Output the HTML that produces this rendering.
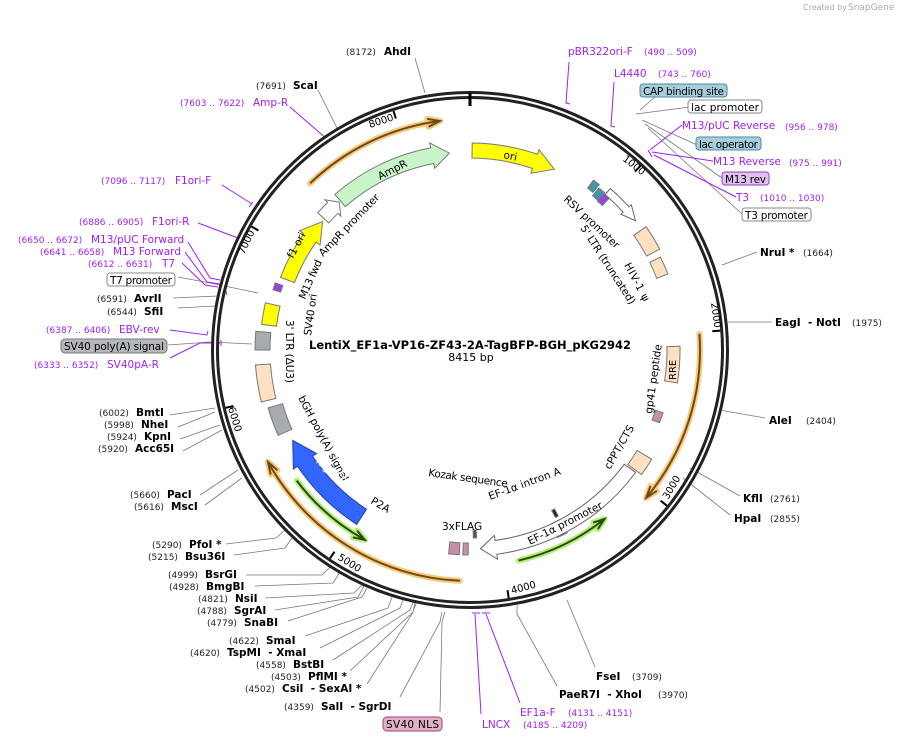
<!DOCTYPE html>
<html><head><meta charset="utf-8"><style>
html,body{margin:0;padding:0;background:#fff;}
svg{display:block;font-family:"DejaVu Sans","Liberation Sans",sans-serif;}
.p{fill:#a020f0;font-size:10.5px;}
.pn{fill:#a020f0;font-size:9px;}
.n{fill:#222;font-size:9px;}
.e{fill:#000;font-size:10.5px;font-weight:bold;}
.f{fill:#000;font-size:10.5px;}
.l{stroke:#777;stroke-width:0.8;fill:none;}
.pl{stroke:#a020f0;stroke-width:1;fill:none;}
</style></head><body>
<svg id="s" width="900" height="741" viewBox="0 0 900 741" xmlns="http://www.w3.org/2000/svg">
<text x="803" y="10" font-size="8" fill="#aaa">Created by</text><text x="848" y="10" font-size="9" fill="#aaa">SnapGene</text>
<g class="l">
<path d="M415,58 L425,93"/><path d="M318,90 L338,130"/>
<path d="M722,265 L757,252"/><path d="M728,322 L772,322"/><path d="M719,410 L765,418"/>
<path d="M690,468 L740,496"/><path d="M683,478 L730,515"/>
<path d="M567,600 L595,667"/><path d="M517,605 L517,614 L557,686"/>
<path d="M640,110 L655,97 M636,114 L690,107 M642,120 L697,145 M645,124 L722,178 M648,128 L742,214"/>
<path d="M170,415 L215,408 M178,427 L215,412 M180,439 L220,425 M183,451 L222,430"/>
<path d="M200,495 L238,470 M205,505 L242,478"/>
<path d="M226,544 L276,538 L285,530 M234,555 L285,548 L292,538"/>
<path d="M246,575 L322,575 L330,567 M255,586 L333,583 L340,572 M265,598 L354,593 L362,585 M275,610 L358,597 L364,586 M288,621 L362,597 L367,588"/>
<path d="M305,636 L388,608 L392,597 M320,648 L400,608 L404,598 M333,660 L410,610 L414,600 M350,671 L413,612 L415,603 M367,684 L412,614 L416,604"/>
<path d="M400,697 L440,622 L442,612 M440,712 L442,622 L445,612"/>
<path d="M178,277 L210,283 L258,293 M173,298 L218,296 M178,308 L215,306"/>
<path d="M168,345 L210,342 L252,344"/>
</g>
<g class="pl">
<path d="M290,107 L328,140 M325,143 L330,138"/>
<path d="M222,185 L252,204 M249,207 L253,202"/>
<path d="M198,223 L238,238"/>
<path d="M188,242 L210,278 L220,280 M185,252 L207,282 L220,284 M182,263 L205,285 L218,287"/>
<path d="M225,288 L227,295"/>
<path d="M170,330 L207,335 L208,331"/>
<path d="M170,358 L200,343 L220,343 M221,340 L221,346"/>
<path d="M569,62 L566,103 L570,104"/><path d="M614,82 L611,126 L615,127"/>
<path d="M682,125 L650,150 M713,161 L652,152 M736,197 L654,155 M648,150 L652,157"/>
<path d="M481,714 L475,614 M520,703 L486,614 M472,613 L480,613 M482,613 L490,613"/>
</g>
<text class="p" x="568" y="55">pBR322ori-F</text><text class="pn" x="644" y="55">(490 .. 509)</text>
<text class="p" x="614" y="77">L4440</text><text class="pn" x="658" y="77">(743 .. 760)</text>
<rect x="640" y="84" width="87" height="13" rx="3" fill="#a8cdd8" stroke="#4a8b9b"/><text class="f" x="643" y="95" textLength="81">CAP binding site</text>
<rect x="688" y="100" width="74" height="13" rx="3" fill="#fff" stroke="#888"/><text class="f" x="691" y="111" textLength="68">lac promoter</text>
<text class="p" x="682" y="129">M13/pUC Reverse</text><text class="pn" x="785" y="130">(956 .. 978)</text>
<rect x="696" y="137" width="65" height="13" rx="3" fill="#a8cdd8" stroke="#4a8b9b"/><text class="f" x="699" y="148" textLength="59">lac operator</text>
<text class="p" x="713" y="165">M13 Reverse</text><text class="pn" x="789" y="166">(975 .. 991)</text>
<rect x="722" y="172" width="47" height="13" rx="3" fill="#e0c0f0" stroke="#9040c0"/><text class="f" x="725" y="183" textLength="41">M13 rev</text>
<text class="p" x="736" y="201">T3</text><text class="pn" x="760" y="201">(1010 .. 1030)</text>
<rect x="742" y="208" width="69" height="13" rx="3" fill="#fff" stroke="#888"/><text class="f" x="745" y="219" textLength="63">T3 promoter</text>
<text class="n" x="346" y="55">(8172)</text><text class="e" x="384" y="55">AhdI</text>
<text class="n" x="256" y="89">(7691)</text><text class="e" x="293" y="89">ScaI</text>
<text class="pn" x="180" y="106">(7603 .. 7622)</text><text class="p" x="253" y="106">Amp-R</text>
<text class="pn" x="101" y="184">(7096 .. 7117)</text><text class="p" x="175" y="184">F1ori-F</text>
<text class="pn" x="79" y="225">(6886 .. 6905)</text><text class="p" x="152" y="225">F1ori-R</text>
<text class="pn" x="18" y="243">(6650 .. 6672)</text><text class="p" x="91" y="243">M13/pUC Forward</text>
<text class="pn" x="40" y="255">(6641 .. 6658)</text><text class="p" x="113" y="255">M13 Forward</text>
<text class="pn" x="88" y="267">(6612 .. 6631)</text><text class="p" x="162" y="267">T7</text>
<rect x="107" y="273" width="68" height="13" rx="3" fill="#fff" stroke="#888"/><text class="f" x="110" y="284" textLength="62">T7 promoter</text>
<text class="n" x="97" y="302">(6591)</text><text class="e" x="134" y="302">AvrII</text>
<text class="n" x="107" y="315">(6544)</text><text class="e" x="144" y="315">SfiI</text>
<text class="pn" x="46" y="333">(6387 .. 6406)</text><text class="p" x="119" y="333">EBV-rev</text>
<rect x="61" y="339" width="106" height="14" rx="4" fill="#b4b8bc" stroke="#777"/><text class="f" x="64" y="350" textLength="100">SV40 poly(A) signal</text>
<text class="pn" x="34" y="368">(6333 .. 6352)</text><text class="p" x="107" y="368">SV40pA-R</text>
<text class="n" x="99" y="416">(6002)</text><text class="e" x="136" y="416">BmtI</text>
<text class="n" x="104" y="428">(5998)</text><text class="e" x="141" y="428">NheI</text>
<text class="n" x="107" y="440">(5924)</text><text class="e" x="144" y="440">KpnI</text>
<text class="n" x="98" y="452">(5920)</text><text class="e" x="135" y="452">Acc65I</text>
<text class="n" x="130" y="498">(5660)</text><text class="e" x="167" y="498">PacI</text>
<text class="n" x="134" y="510">(5616)</text><text class="e" x="171" y="510">MscI</text>
<text class="n" x="152" y="548">(5290)</text><text class="e" x="189" y="548">PfoI *</text>
<text class="n" x="148" y="560">(5215)</text><text class="e" x="185" y="560">Bsu36I</text>
<text class="n" x="168" y="578">(4999)</text><text class="e" x="205" y="578">BsrGI</text>
<text class="n" x="169" y="590">(4928)</text><text class="e" x="206" y="590">BmgBI</text>
<text class="n" x="198" y="602">(4821)</text><text class="e" x="235" y="602">NsiI</text>
<text class="n" x="197" y="614">(4788)</text><text class="e" x="234" y="614">SgrAI</text>
<text class="n" x="207" y="626">(4779)</text><text class="e" x="244" y="626">SnaBI</text>
<text class="n" x="229" y="644">(4622)</text><text class="e" x="266" y="644">SmaI</text>
<text class="n" x="190" y="656">(4620)</text><text class="e" x="227" y="656">TspMI&#160;&#160;- XmaI</text>
<text class="n" x="256" y="668">(4558)</text><text class="e" x="293" y="668">BstBI</text>
<text class="n" x="271" y="680">(4503)</text><text class="e" x="308" y="680">PflMI *</text>
<text class="n" x="245" y="692">(4502)</text><text class="e" x="282" y="692">CsiI&#160;&#160;- SexAI *</text>
<text class="n" x="284" y="710">(4359)</text><text class="e" x="321" y="710">SalI&#160;&#160;- SgrDI</text>
<rect x="383" y="717" width="59" height="14" rx="4" fill="#e0b0c8" stroke="#a04070"/><text class="f" x="386" y="728" textLength="53">SV40 NLS</text>
<text class="p" x="482" y="728">LNCX</text>
<text class="p" x="520" y="716">EF1a-F</text><text class="pn" x="568" y="716">(4131 .. 4151)</text>
<text class="pn" x="523" y="728">(4185 .. 4209)</text>
<text class="e" x="760" y="256">NruI *</text><text class="n" x="803" y="256">(1664)</text>
<text class="e" x="775" y="326">EagI&#160;&#160;- NotI</text><text class="n" x="852" y="326">(1975)</text>
<text class="e" x="769" y="424">AleI</text><text class="n" x="806" y="424">(2404)</text>
<text class="e" x="743" y="502">KflI</text><text class="n" x="770" y="502">(2761)</text>
<text class="e" x="734" y="522">HpaI</text><text class="n" x="770" y="522">(2855)</text>
<text class="e" x="596" y="680">FseI</text><text class="n" x="632" y="680">(3709)</text>
<text class="e" x="559" y="698">PaeR7I&#160;&#160;- XhoI</text><text class="n" x="658" y="698">(3970)</text>
<circle cx="470" cy="350" r="255" fill="none" stroke="#222" stroke-width="8"/>
<circle cx="470" cy="350" r="255" fill="none" stroke="#fff" stroke-width="2"/>
<path d="M470,93 L470,106" stroke="#000" stroke-width="3"/>
<g id="feat"></g>
<text x="470" y="349" text-anchor="middle" font-size="11.5" font-weight="bold">LentiX_EF1a-VP16-ZF43-2A-TagBFP-BGH_pKG2942</text>
<text x="471" y="361" text-anchor="middle" font-size="11">8415 bp</text>
<g font-size="10.5" fill="#000">
<text transform="translate(503,158) rotate(12)">ori</text>
<text transform="translate(380,180) rotate(-27)">AmpR</text>
<text transform="translate(323,257) rotate(-46)" textLength="82">AmpR promoter</text>
<text transform="translate(293,259) rotate(-62)">f1 ori</text>
<text transform="translate(305,300) rotate(-66)" textLength="42">M13 fwd</text>
<text transform="translate(311,336) rotate(-82)" textLength="42">SV40 ori</text>
<text transform="translate(286,320) rotate(90)" textLength="63">3' LTR (ΔU3)</text>
<text transform="translate(298,398) rotate(62)" textLength="95">bGH poly(A) signal</text>
<text transform="translate(314,461) rotate(40)" fill="#fff">TagBFP</text>
<text transform="translate(370,503) rotate(30)">P2A</text>
<text transform="translate(442,530)">3xFLAG</text>
<text transform="translate(428,476) rotate(8)" textLength="80">Kozak sequence</text>
<text transform="translate(490,500) rotate(-20)" textLength="76">EF-1α intron A</text>
<text transform="translate(530,545) rotate(-27)">EF-1α promoter</text>
<text transform="translate(610,470) rotate(-60)">cPPT/CTS</text>
<text transform="translate(652,414) rotate(-82)">gp41 peptide</text>
<text transform="translate(676,380) rotate(-90)" font-size="10">RRE</text>
<text transform="translate(563,200) rotate(43)" textLength="72">RSV promoter</text>
<text transform="translate(580,228) rotate(57)" textLength="92">5' LTR (truncated)</text>
<text transform="translate(624,265) rotate(62)" textLength="42">HIV-1 ψ</text>
</g>
<g font-size="10" fill="#000">
<text transform="translate(370,128) rotate(-18)">8000</text>
<text transform="translate(622,160) rotate(38)">1000</text>
<text transform="translate(711,303) rotate(82)">2000</text>
<text transform="translate(668,500) rotate(-60)">3000</text>
<text transform="translate(512,594) rotate(-15)">4000</text>
<text transform="translate(337,559) rotate(32)">5000</text>
<text transform="translate(228,408) rotate(73)">6000</text>
<text transform="translate(244,255) rotate(-65)">7000</text>
</g>
</svg>
<script>
var cx=470,cy=350,NS="http://www.w3.org/2000/svg",g=document.getElementById("feat");
function P(r,a){a=a*Math.PI/180;return [(cx+r*Math.sin(a)).toFixed(1),(cy-r*Math.cos(a)).toFixed(1)];}
function arc(r,a1,a2){var p=P(r,a2),sw=a2>a1?1:0,la=Math.abs(a2-a1)>180?1:0;return " A"+r+","+r+" 0 "+la+" "+sw+" "+p.join(",");}
function el(t,at){var e=document.createElementNS(NS,t);for(var k in at)e.setAttribute(k,at[k]);g.appendChild(e);return e;}
function box(r1,r2,a1,a2,fill,st){var d="M"+P(r2,a1).join(",")+arc(r2,a1,a2)+" L"+P(r1,a2).join(",")+arc(r1,a2,a1)+"Z";el("path",{d:d,fill:fill,stroke:st||"#777","stroke-width":1});}
function arrow(r1,r2,a1,a2,tip,fill,st,w){var d;var rm=(r1+r2)/2,w=w||5;
 d="M"+P(r2,a1).join(",")+arc(r2,a1,a2)+" L"+P(r2+w,a2).join(",")+" L"+P(rm,tip).join(",")+" L"+P(r1-w,a2).join(",")+" L"+P(r1,a2).join(",")+arc(r1,a2,a1)+"Z";
 el("path",{d:d,fill:fill,stroke:st||"#555","stroke-width":1});}
function line(r,a1,a2,col,glow){var d="M"+P(r,a1).join(",")+arc(r,a1,a2);
 var s=a2>a1?-3:3,h1=P(r+4,a2+s),h2=P(r-4,a2+s),t=P(r,a2);
 var hd="M"+h1.join(",")+" L"+t.join(",")+" L"+h2.join(",");
 el("path",{d:d,fill:"none",stroke:glow,"stroke-width":6,"stroke-linecap":"round"});
 el("path",{d:hd,fill:"none",stroke:glow,"stroke-width":6,"stroke-linecap":"round","stroke-linejoin":"round"});
 el("path",{d:d,fill:"none",stroke:col,"stroke-width":2});
 el("path",{d:hd,fill:"none",stroke:col,"stroke-width":2});}
[[8000,-18],[1000,42.8],[2000,85.6],[3000,128.4],[4000,171.1],[5000,213.9],[6000,256.7],[7000,299.5]].forEach(function(t){var a=t[0]*360/8415;el("path",{d:"M"+P(251,a).join(",")+" L"+P(243,a).join(","),stroke:"#000","stroke-width":2});});
line(231,-43.8,-7.5,"#6b4a1a","#fbc97a");
line(230,86,130,"#6b4a1a","#fbc97a");
line(231,182.5,241,"#6b4a1a","#fbc97a");
line(216,167,141.5,"#2b4a10","#b4f07a");
line(217,233,209,"#2b4a10","#b4f07a");
arrow(192,207,0.6,19,25,"#ffff00","#777",5);
arrow(190,206,-41,-11,-6,"#c8f5c8","#777",5);
arrow(190,205,-48,-44,-41.5,"#fff","#777",4);
arrow(188,203,-69,-55,-49,"#ffff00","#777",5);
arrow(190,208,213,236,243,"#3366ff","#2244aa",5);
box(192,207,152,155,"#c890a8");
box(193,205,180.5,182,"#c890a8");box(193,205,183,186,"#c890a8");
box(195,210,246,254,"#a8acb0");
box(200,215,256,266,"#ffe0c0");
box(200,215,270,275,"#a8acb0");
box(195,210,277,283,"#ffff00");
box(198,206,-73,-71,"#a040e0");
arrow(192,206,126.5,172.5,177,"#fff","#666",5);
box(195,212,121,126,"#ffe0c0");
box(195,203,108,111,"#c890a8");
box(197,210,89,99,"#ffe0c0");
box(200,215,55,62,"#ffe0c0");box(200,212,64,69,"#ffe0c0");
arrow(206,214,41,48,52,"#fff","#666",3);
box(200,210,36,38,"#3a9aa8");box(197,207,38.5,40.5,"#3a9aa8");box(196,206,40.5,42.5,"#a040e0");
box(180,188,152,153,"#222");box(180,188,178,179,"#555");
</script>
</body></html>
